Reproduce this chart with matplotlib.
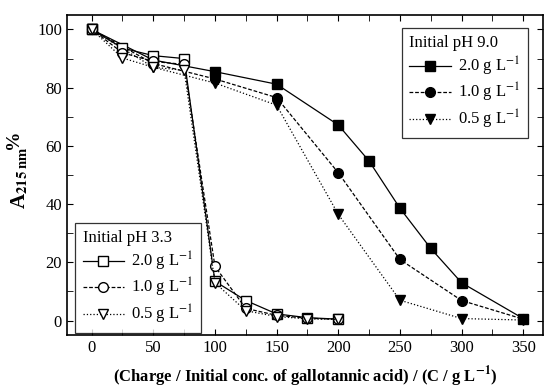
import numpy as np
import matplotlib
matplotlib.use("Agg")
import matplotlib.pyplot as plt
from matplotlib.ticker import MultipleLocator

plt.rcParams['font.family'] = 'Liberation Serif'
plt.rcParams['mathtext.fontset'] = 'stix'

# pH 9.0 series
x_ph9 = [0, 50, 100, 150, 200, 225, 250, 275, 300, 350]
ph9_20 = [100, 89.5, 85.5, 81.2, 67.2, 54.8, 38.6, 24.8, 13.0, 0.7]
x_ph9b = [0, 50, 100, 150, 200, 250, 300, 350]
ph9_10 = [100, 88.3, 83.0, 76.6, 50.8, 21.0, 6.9, 0.5]
ph9_05 = [100, 87.0, 81.6, 74.0, 36.5, 7.0, 0.7, 0.2]

# pH 3.3 series
x_ph3 = [0, 25, 50, 75, 100, 125, 150, 175, 200]
ph3_20 = [100, 93.6, 91.0, 90.0, 13.5, 6.9, 2.3, 1.0, 0.5]
ph3_10 = [100, 92.0, 89.0, 88.0, 18.6, 4.2, 1.8, 0.8, 0.5]
ph3_05 = [100, 90.2, 87.0, 86.0, 13.0, 3.4, 1.4, 0.6, 0.4]

conc_labels = ['2.0 g L$^{-1}$', '1.0 g L$^{-1}$', '0.5 g L$^{-1}$']

fig = plt.figure(figsize=(5.49, 3.92), dpi=100)
ax = fig.add_axes([0.122, 0.145, 0.867, 0.817])

kw = dict(color='black', lw=0.9, ms=7)
h1, = ax.plot(x_ph9, ph9_20, 's-', label=conc_labels[0], **kw)
h2, = ax.plot(x_ph9b, ph9_10, 'o--', dashes=(3, 1.5), label=conc_labels[1], **kw)
h3, = ax.plot(x_ph9b, ph9_05, 'v:', label=conc_labels[2], **kw)

o1, = ax.plot(x_ph3, ph3_20, 's-', mfc='white', mew=1.0, label=conc_labels[0], **kw)
o2, = ax.plot(x_ph3, ph3_10, 'o--', dashes=(3, 1.5), mfc='white', mew=1.0, label=conc_labels[1], **kw)
o3, = ax.plot(x_ph3, ph3_05, 'v:', mfc='white', mew=1.0, label=conc_labels[2], **kw)

ax.set_xlim(-20, 366)
ax.set_ylim(-5, 105)
ax.xaxis.set_major_locator(MultipleLocator(50))
ax.xaxis.set_minor_locator(MultipleLocator(25))
ax.yaxis.set_major_locator(MultipleLocator(20))
ax.yaxis.set_minor_locator(MultipleLocator(10))
ax.tick_params(which='both', direction='in', top=True, right=True, labelsize=12)
ax.tick_params(which='major', length=4)
ax.tick_params(which='minor', length=4)
for s in ax.spines.values():
    s.set_linewidth(1.2)

ax.set_xlabel('(Charge / Initial conc. of gallotannic acid) / (C / g L$\\mathbf{^{-1}}$)',
              fontsize=12, fontweight='bold', labelpad=6)

# y label: A with subscript, then a raised % sign
fig.text(20 / 549, 1 - 178 / 392, 'A$_{\\mathbf{215\\ nm}}$', rotation=90, fontsize=15,
         fontweight='bold', ha='center', va='center')
fig.text(14 / 549, 1 - 139 / 392, '%', rotation=90, fontsize=14,
         fontweight='bold', ha='center', va='center')

leg_kw = dict(fancybox=False, edgecolor='black', fontsize=12, title_fontsize=12,
              handlelength=2.5, borderpad=0.45, labelspacing=0.2, handletextpad=0.4)
leg1 = ax.legend(handles=[h1, h2, h3], title='Initial pH 9.0', loc='upper right',
                 bbox_to_anchor=(0.968, 0.96), borderaxespad=0, **leg_kw)
leg1._legend_box.align = 'left'
leg1.get_frame().set_linewidth(0.9)
ax.add_artist(leg1)
leg2 = ax.legend(handles=[o1, o2, o3], title='Initial pH 3.3', loc='lower left',
                 bbox_to_anchor=(0.017, 0.006), borderaxespad=0, **leg_kw)
leg2._legend_box.align = 'left'
leg2.get_frame().set_linewidth(0.9)

fig.savefig('out.png', dpi=100)
